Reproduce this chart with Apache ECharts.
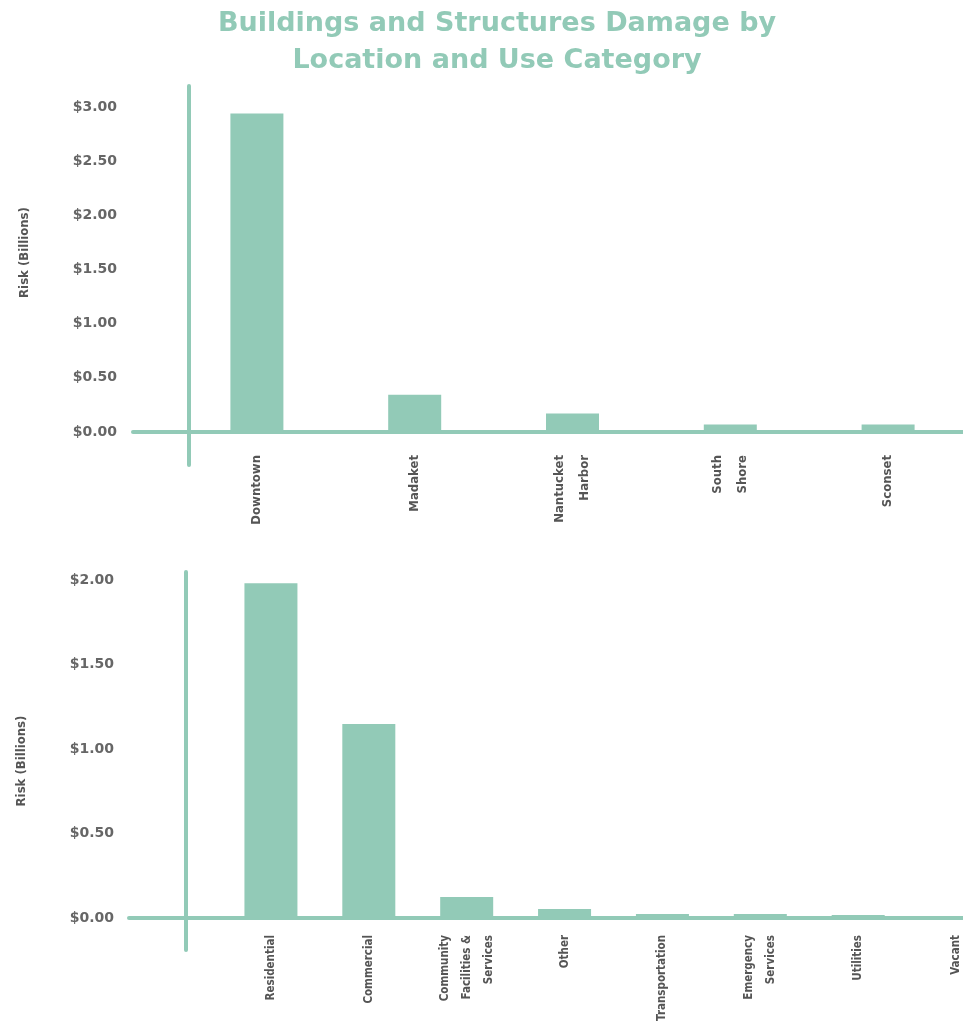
<!DOCTYPE html>
<html>
<head>
<meta charset="utf-8">
<script src="https://cdn.jsdelivr.net/npm/echarts@6/dist/echarts.min.js"></script>
<style>
  html, body { margin: 0; padding: 0; background: #fff; }
  #chart { width: 963px; height: 1022px; }
</style>
</head>
<body>
<div id="chart"></div>
<script>
// --- data ---
const titleText = "Buildings and Structures Damage by\nLocation and Use Category";
const axisName = "Risk (Billions)";

const locations = ["Downtown", "Madaket", "Nantucket\nHarbor", "South\nShore", "Sconset"];
const locationRisk = [2.94, 0.345, 0.17, 0.07, 0.07];
const locationTicks = [0, 0.5, 1, 1.5, 2, 2.5, 3];

const useCategories = ["Residential", "Commercial", "Community\nFacilities &\nServices", "Other",
  "Transportation", "Emergency\nServices", "Utilities", "Vacant"];
const useRisk = [1.98, 1.148, 0.124, 0.053, 0.024, 0.024, 0.018, 0.004];
const useTicks = [0, 0.5, 1, 1.5, 2];

// --- style ---
const TEAL = "#92cab7";
const LABEL_FONT = '"Liberation Sans Narrow", "DejaVu Sans Condensed", sans-serif';
const NUM_FONT = '"DejaVu Sans", sans-serif';

const money = v => "$" + v.toFixed(2);

/* 单个面板: frame grid (十字轴线, 含负区间) + bar grid (柱子, 底边 = 0 线) */
function panel(opt) {
  const { gi, top, height, zeroY, frameLeft, axisX, barLeft, barRight, yMin, yMax,
    ticks, cats, values, labelMargin, labelSize, lineHeight, namePad } = opt;
  const line = { show: true, onZero: true, lineStyle: { color: TEAL, width: 4 } };
  return {
    grid: [
      { left: frameLeft, right: 0, top, height, outerBoundsMode: "none" },
      { left: barLeft, right: barRight, top, height: zeroY - top, outerBoundsMode: "none" }
    ],
    xAxis: [
      {
        type: "category", gridIndex: gi, data: [""],
        axisLine: line,
        axisTick: { show: false }, axisLabel: { show: false }, splitLine: { show: false }
      },
      {
        type: "category", gridIndex: gi + 1, data: cats,
        axisLine: line,
        axisTick: { show: false },
        axisLabel: {
          rotate: 90, margin: labelMargin, interval: 0,
          fontFamily: LABEL_FONT, fontWeight: "bold", fontSize: labelSize,
          color: "#555", lineHeight
        }
      }
    ],
    yAxis: [
      {
        type: "value", gridIndex: gi, min: yMin, max: yMax,
        offset: frameLeft - axisX,
        axisLine: { show: true, onZero: false, lineStyle: { color: TEAL, width: 4 } },
        axisTick: { show: false },
        splitLine: { show: false },
        axisLabel: {
          customValues: ticks, formatter: money, margin: 72,
          fontFamily: NUM_FONT, fontWeight: "bold", fontSize: 14, color: "#666"
        },
        name: axisName, nameLocation: "middle", nameGap: 158,
        nameTextStyle: {
          fontFamily: LABEL_FONT, fontWeight: "bold", fontSize: 13, color: "#555",
          padding: namePad
        }
      },
      {
        type: "value", gridIndex: gi + 1, min: 0, max: yMax, show: false
      }
    ],
    series: [{
      type: "bar", xAxisIndex: gi + 1, yAxisIndex: gi + 1,
      data: values, barWidth: 53,
      itemStyle: { color: TEAL }
    }]
  };
}

const topPanel = panel({
  gi: 0, top: 86, height: 379, zeroY: 432, frameLeft: 133, axisX: 189,
  barLeft: 178, barRight: -4, yMin: -0.305, yMax: 3.195,
  ticks: locationTicks, cats: locations, values: locationRisk,
  labelMargin: 23, labelSize: 13, lineHeight: 25, namePad: [0, 0, 0, 46]
});
const bottomPanel = panel({
  gi: 2, top: 572, height: 378, zeroY: 918, frameLeft: 129, axisX: 186,
  barLeft: 222, barRight: -42, yMin: -0.189, yMax: 2.047,
  ticks: useTicks, cats: useCategories, values: useRisk,
  labelMargin: 17, labelSize: 11.5, lineHeight: 22, namePad: [0, 0, 0, 0]
});

const chart = echarts.init(document.getElementById("chart"), null, { renderer: "canvas" });
chart.setOption({
  animation: false,
  backgroundColor: "#fff",
  title: {
    text: titleText, left: 497, top: 0, textAlign: "center", padding: [5, 0, 0, 0],
    textStyle: {
      fontFamily: NUM_FONT, fontWeight: "bold", fontSize: 27,
      color: TEAL, lineHeight: 37
    }
  },
  grid: topPanel.grid.concat(bottomPanel.grid),
  xAxis: topPanel.xAxis.concat(bottomPanel.xAxis),
  yAxis: topPanel.yAxis.concat(bottomPanel.yAxis),
  series: topPanel.series.concat(bottomPanel.series)
});

window.addEventListener("resize", () => chart.resize());
</script>
</body>
</html>
